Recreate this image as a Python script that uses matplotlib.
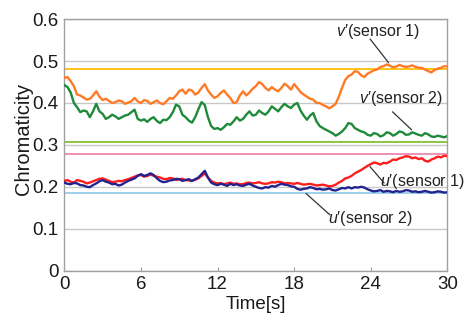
import numpy as np
import matplotlib
matplotlib.use("Agg")
import matplotlib.pyplot as plt

plt.rcParams["font.family"] = ["Liberation Sans", "DejaVu Sans"]
plt.rcParams["mathtext.fontset"] = "custom"
plt.rcParams["mathtext.it"] = "Liberation Sans:italic"
plt.rcParams["mathtext.rm"] = "Liberation Sans"

# chromaticity every 0.25 s (0 .. 30 s)
v_sensor1 = [
    0.460, 0.462, 0.452, 0.440, 0.420, 0.418, 0.413, 0.408, 0.410, 0.418,
    0.428, 0.415, 0.407, 0.410, 0.405, 0.400, 0.402, 0.406, 0.404, 0.398,
    0.401, 0.404, 0.412, 0.404, 0.400, 0.407, 0.405, 0.398, 0.402, 0.406,
    0.400, 0.397, 0.404, 0.412, 0.410, 0.418, 0.428, 0.432, 0.422, 0.432,
    0.430, 0.420, 0.425, 0.436, 0.445, 0.430, 0.420, 0.412, 0.416, 0.424,
    0.430, 0.420, 0.412, 0.400, 0.402, 0.418, 0.428, 0.418, 0.425, 0.434,
    0.440, 0.450, 0.445, 0.436, 0.430, 0.438, 0.432, 0.428, 0.436, 0.446,
    0.440, 0.432, 0.445, 0.436, 0.426, 0.420, 0.415, 0.410, 0.408, 0.400,
    0.400, 0.395, 0.392, 0.387, 0.392, 0.398, 0.415, 0.436, 0.455, 0.464,
    0.468, 0.476, 0.474, 0.466, 0.462, 0.470, 0.474, 0.478, 0.480, 0.486,
    0.488, 0.492, 0.489, 0.485, 0.487, 0.491, 0.488, 0.486, 0.487, 0.490,
    0.486, 0.484, 0.484, 0.480, 0.476, 0.473, 0.479, 0.482, 0.484, 0.488,
    0.487,
]
v_sensor2 = [
    0.443, 0.438, 0.425, 0.400, 0.390, 0.378, 0.382, 0.380, 0.366, 0.380,
    0.398, 0.380, 0.374, 0.362, 0.366, 0.372, 0.368, 0.362, 0.366, 0.370,
    0.372, 0.378, 0.384, 0.362, 0.358, 0.361, 0.355, 0.362, 0.366, 0.357,
    0.352, 0.360, 0.359, 0.366, 0.378, 0.396, 0.392, 0.372, 0.366, 0.358,
    0.353, 0.366, 0.385, 0.402, 0.395, 0.366, 0.345, 0.338, 0.340, 0.336,
    0.342, 0.350, 0.348, 0.356, 0.366, 0.358, 0.362, 0.372, 0.380, 0.370,
    0.372, 0.382, 0.376, 0.372, 0.380, 0.392, 0.386, 0.380, 0.390, 0.398,
    0.392, 0.388, 0.396, 0.400, 0.382, 0.370, 0.360, 0.370, 0.376, 0.356,
    0.345, 0.340, 0.336, 0.332, 0.328, 0.322, 0.326, 0.332, 0.340, 0.352,
    0.350, 0.340, 0.336, 0.332, 0.330, 0.324, 0.322, 0.328, 0.326, 0.320,
    0.323, 0.330, 0.328, 0.322, 0.326, 0.332, 0.330, 0.324, 0.325, 0.330,
    0.327, 0.324, 0.322, 0.328, 0.325, 0.320, 0.319, 0.322, 0.320, 0.318,
    0.321,
]
u_sensor1 = [
    0.214, 0.216, 0.212, 0.210, 0.216, 0.214, 0.212, 0.208, 0.210, 0.213,
    0.216, 0.219, 0.220, 0.217, 0.214, 0.211, 0.212, 0.214, 0.213, 0.216,
    0.218, 0.221, 0.224, 0.227, 0.228, 0.224, 0.226, 0.229, 0.226, 0.224,
    0.222, 0.219, 0.218, 0.221, 0.220, 0.216, 0.218, 0.219, 0.216, 0.215,
    0.214, 0.217, 0.220, 0.226, 0.232, 0.222, 0.214, 0.210, 0.208, 0.209,
    0.206, 0.208, 0.210, 0.207, 0.208, 0.206, 0.206, 0.209, 0.210, 0.208,
    0.209, 0.211, 0.208, 0.207, 0.208, 0.211, 0.210, 0.212, 0.211, 0.208,
    0.209, 0.208, 0.207, 0.209, 0.207, 0.205, 0.206, 0.207, 0.205, 0.203,
    0.204, 0.205, 0.203, 0.201, 0.202, 0.205, 0.210, 0.214, 0.220, 0.222,
    0.226, 0.232, 0.236, 0.240, 0.245, 0.250, 0.254, 0.258, 0.256, 0.253,
    0.257, 0.256, 0.260, 0.265, 0.264, 0.268, 0.270, 0.273, 0.272, 0.268,
    0.270, 0.266, 0.268, 0.262, 0.260, 0.265, 0.268, 0.272, 0.270, 0.274,
    0.273,
]
u_sensor2 = [
    0.210, 0.207, 0.206, 0.209, 0.208, 0.204, 0.203, 0.200, 0.199, 0.204,
    0.208, 0.213, 0.216, 0.212, 0.210, 0.206, 0.207, 0.203, 0.205, 0.210,
    0.214, 0.217, 0.220, 0.226, 0.230, 0.226, 0.228, 0.232, 0.228, 0.220,
    0.214, 0.211, 0.212, 0.215, 0.216, 0.219, 0.218, 0.214, 0.216, 0.218,
    0.214, 0.218, 0.222, 0.230, 0.238, 0.222, 0.210, 0.206, 0.204, 0.207,
    0.205, 0.202, 0.207, 0.204, 0.206, 0.203, 0.202, 0.205, 0.207, 0.203,
    0.200, 0.197, 0.196, 0.199, 0.198, 0.202, 0.200, 0.204, 0.207, 0.205,
    0.204, 0.201, 0.200, 0.195, 0.193, 0.195, 0.196, 0.199, 0.197, 0.194,
    0.195, 0.193, 0.194, 0.196, 0.192, 0.191, 0.194, 0.197, 0.196, 0.199,
    0.196, 0.199, 0.198, 0.200, 0.198, 0.194, 0.191, 0.189, 0.190, 0.192,
    0.188, 0.190, 0.189, 0.187, 0.190, 0.188, 0.189, 0.192, 0.191, 0.188,
    0.189, 0.187, 0.188, 0.190, 0.188, 0.186, 0.187, 0.189, 0.188, 0.186,
    0.187,
]
time_s = np.linspace(0, 30, len(v_sensor1))

# reference (target) chromaticity levels
ref_levels = [0.481, 0.308, 0.279, 0.184]
ref_colors = ["#FFC21A", "#8CC63F", "#EE8FB6", "#9DD0EC"]

x_ticks = [0, 6, 12, 18, 24, 30]
y_ticks = [0, 0.1, 0.2, 0.3, 0.4, 0.5, 0.6]
y_ticklabels = ["0", "0.1", "0.2", "0.3", "0.4", "0.5", "0.6"]

fig = plt.figure(figsize=(4.66, 3.23), dpi=100)
ax = fig.add_axes([0.138, 0.1625, 0.822, 0.778])

for lvl, c in zip(ref_levels, ref_colors):
    ax.axhline(lvl, color=c, linewidth=1.4, zorder=2)

ax.plot(time_s, v_sensor1, color="#FF7A26", linewidth=1.7, zorder=3)
ax.plot(time_s, v_sensor2, color="#1E8A3A", linewidth=1.7, zorder=3)
ax.plot(time_s, u_sensor1, color="#FF1E1E", linewidth=1.7, zorder=3)
ax.plot(time_s, u_sensor2, color="#23238F", linewidth=1.7, zorder=4)

# callout labels
lab_kw = dict(fontsize=11.5, color="#222222", ha="center", va="center")
line_kw = dict(arrowstyle="-", color="#333333", linewidth=0.9, shrinkA=0, shrinkB=0)
notes = [
    (r"$v$′(sensor 1)", (24.6, 0.570), (25.4, 0.496), (23.94, 0.553)),
    (r"$v$′(sensor 2)", (26.4, 0.410), (27.2, 0.336), (25.7, 0.379)),
    (r"$u$′(sensor 1)", (28.05, 0.212), (23.94, 0.248), (25.04, 0.209)),
    (r"$u$′(sensor 2)", (24.0, 0.125), (18.93, 0.184), (20.8, 0.133)),
]
for txt, tpos, xy, xyt in notes:
    ax.annotate("", xy=xy, xytext=xyt, arrowprops=line_kw, zorder=5)
    ax.text(tpos[0], tpos[1], txt, zorder=6, clip_on=False, **lab_kw)

ax.set_xlim(0, 30)
ax.set_ylim(0, 0.6)
ax.set_xticks(x_ticks)
ax.set_yticks(y_ticks)
ax.set_yticklabels(y_ticklabels)
ax.grid(axis="y", color="#C8C8C8", linewidth=1.0, zorder=1)
ax.set_axisbelow(True)
for s in ax.spines.values():
    s.set_color("#A0A0A0")
    s.set_linewidth(1.0)
ax.tick_params(axis="x", direction="in", length=3, color="#A0A0A0",
               labelsize=13.5, labelcolor="#1a1a1a", pad=4)
ax.tick_params(axis="y", length=0, labelsize=13.5, labelcolor="#1a1a1a", pad=4)
ax.set_xlabel("Time[s]", fontsize=13.5, color="#1a1a1a", labelpad=2)
ax.set_ylabel("Chromaticity", fontsize=14.5, color="#1a1a1a")
ax.yaxis.set_label_coords(-0.083, 0.523)

fig.savefig("out.png", dpi=100)
